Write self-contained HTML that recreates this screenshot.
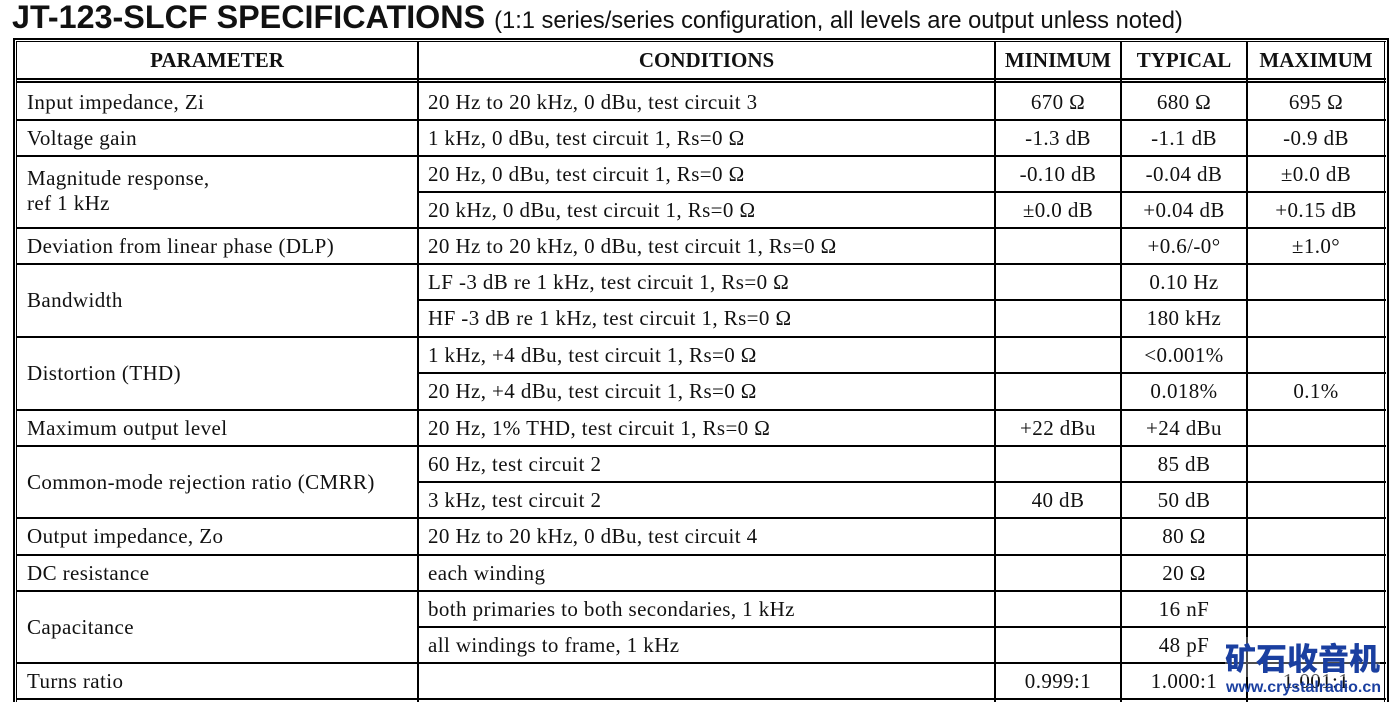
<!DOCTYPE html>
<html><head><meta charset="utf-8"><style>
body{margin:0;width:1391px;height:702px;background:#fff;position:relative;overflow:hidden;font-family:"Liberation Serif",serif;color:#111}
.l{position:absolute;background:#000}
.t{position:absolute;font-size:21px;letter-spacing:0.4px;white-space:nowrap;line-height:36px;height:36px}
.c{text-align:center}
.h{font-weight:bold;line-height:38px;height:38px;top:41px;letter-spacing:0px}
</style></head><body>
<div style="position:absolute;left:12px;top:-1px;font-family:'Liberation Sans',sans-serif;font-weight:bold;font-size:32.3px;line-height:36px;white-space:nowrap">JT-123-SLCF SPECIFICATIONS <span style="font-weight:normal;font-size:23.7px">(1:1 series/series configuration, all levels are output unless noted)</span></div>

<div class="l" style="left:13px;top:38px;width:1376px;height:2px"></div>
<div class="l" style="left:16px;top:41px;width:1370px;height:1px"></div>
<div class="l" style="left:13px;top:38px;width:2px;height:664px"></div>
<div class="l" style="left:16px;top:41px;width:1px;height:661px"></div>
<div class="l" style="left:1387px;top:38px;width:2px;height:664px"></div>
<div class="l" style="left:1384px;top:41px;width:1px;height:661px"></div>
<div class="l" style="left:16px;top:78px;width:1370px;height:2px"></div>
<div class="l" style="left:16px;top:81px;width:1370px;height:2px"></div>
<div class="l" style="left:417px;top:41px;width:2px;height:661px"></div>
<div class="l" style="left:994px;top:41px;width:2px;height:661px"></div>
<div class="l" style="left:1120px;top:41px;width:2px;height:661px"></div>
<div class="l" style="left:1246px;top:41px;width:2px;height:661px"></div>
<div class="l" style="left:16px;top:119px;width:1370px;height:2px"></div>
<div class="l" style="left:16px;top:155px;width:1370px;height:2px"></div>
<div class="l" style="left:417px;top:191px;width:969px;height:2px"></div>
<div class="l" style="left:16px;top:227px;width:1370px;height:2px"></div>
<div class="l" style="left:16px;top:263px;width:1370px;height:2px"></div>
<div class="l" style="left:417px;top:299px;width:969px;height:2px"></div>
<div class="l" style="left:16px;top:336px;width:1370px;height:2px"></div>
<div class="l" style="left:417px;top:372px;width:969px;height:2px"></div>
<div class="l" style="left:16px;top:409px;width:1370px;height:2px"></div>
<div class="l" style="left:16px;top:445px;width:1370px;height:2px"></div>
<div class="l" style="left:417px;top:481px;width:969px;height:2px"></div>
<div class="l" style="left:16px;top:517px;width:1370px;height:2px"></div>
<div class="l" style="left:16px;top:554px;width:1370px;height:2px"></div>
<div class="l" style="left:16px;top:590px;width:1370px;height:2px"></div>
<div class="l" style="left:417px;top:626px;width:969px;height:2px"></div>
<div class="l" style="left:16px;top:662px;width:1370px;height:2px"></div>
<div class="l" style="left:16px;top:698px;width:1370px;height:2px"></div>

<div class="t h c" style="left:17px;width:400px">PARAMETER</div>
<div class="t h c" style="left:419px;width:575px">CONDITIONS</div>
<div class="t h c" style="left:996px;width:124px">MINIMUM</div>
<div class="t h c" style="left:1122px;width:124px">TYPICAL</div>
<div class="t h c" style="left:1248px;width:136px">MAXIMUM</div>

<div class="t" style="left:27px;top:84px">Input impedance, Zi</div>
<div class="t" style="left:428px;top:84px">20 Hz to 20 kHz, 0 dBu, test circuit 3</div>
<div class="t c" style="left:996px;width:124px;top:84px">670 Ω</div>
<div class="t c" style="left:1122px;width:124px;top:84px">680 Ω</div>
<div class="t c" style="left:1248px;width:136px;top:84px">695 Ω</div>

<div class="t" style="left:27px;top:120px">Voltage gain</div>
<div class="t" style="left:428px;top:120px">1 kHz, 0 dBu, test circuit 1, Rs=0 Ω</div>
<div class="t c" style="left:996px;width:124px;top:120px">-1.3 dB</div>
<div class="t c" style="left:1122px;width:124px;top:120px">-1.1 dB</div>
<div class="t c" style="left:1248px;width:136px;top:120px">-0.9 dB</div>

<div class="t" style="left:27px;top:166px;line-height:25px;height:50px">Magnitude response,<br>ref 1 kHz</div>
<div class="t" style="left:428px;top:156px">20 Hz, 0 dBu, test circuit 1, Rs=0 Ω</div>
<div class="t c" style="left:996px;width:124px;top:156px">-0.10 dB</div>
<div class="t c" style="left:1122px;width:124px;top:156px">-0.04 dB</div>
<div class="t c" style="left:1248px;width:136px;top:156px">±0.0 dB</div>
<div class="t" style="left:428px;top:192px">20 kHz, 0 dBu, test circuit 1, Rs=0 Ω</div>
<div class="t c" style="left:996px;width:124px;top:192px">±0.0 dB</div>
<div class="t c" style="left:1122px;width:124px;top:192px">+0.04 dB</div>
<div class="t c" style="left:1248px;width:136px;top:192px">+0.15 dB</div>

<div class="t" style="left:27px;top:228px">Deviation from linear phase (DLP)</div>
<div class="t" style="left:428px;top:228px">20 Hz to 20 kHz, 0 dBu, test circuit 1, Rs=0 Ω</div>
<div class="t c" style="left:1122px;width:124px;top:228px">+0.6/-0°</div>
<div class="t c" style="left:1248px;width:136px;top:228px">±1.0°</div>

<div class="t" style="left:27px;top:282px">Bandwidth</div>
<div class="t" style="left:428px;top:264px">LF -3 dB re 1 kHz, test circuit 1, Rs=0 Ω</div>
<div class="t c" style="left:1122px;width:124px;top:264px">0.10 Hz</div>
<div class="t" style="left:428px;top:300px">HF -3 dB re 1 kHz, test circuit 1, Rs=0 Ω</div>
<div class="t c" style="left:1122px;width:124px;top:300px">180 kHz</div>

<div class="t" style="left:27px;top:355px">Distortion (THD)</div>
<div class="t" style="left:428px;top:337px">1 kHz, +4 dBu, test circuit 1, Rs=0 Ω</div>
<div class="t c" style="left:1122px;width:124px;top:337px">&lt;0.001%</div>
<div class="t" style="left:428px;top:373px">20 Hz, +4 dBu, test circuit 1, Rs=0 Ω</div>
<div class="t c" style="left:1122px;width:124px;top:373px">0.018%</div>
<div class="t c" style="left:1248px;width:136px;top:373px">0.1%</div>

<div class="t" style="left:27px;top:410px">Maximum output level</div>
<div class="t" style="left:428px;top:410px">20 Hz, 1% THD, test circuit 1, Rs=0 Ω</div>
<div class="t c" style="left:996px;width:124px;top:410px">+22 dBu</div>
<div class="t c" style="left:1122px;width:124px;top:410px">+24 dBu</div>

<div class="t" style="left:27px;top:464px">Common-mode rejection ratio (CMRR)</div>
<div class="t" style="left:428px;top:446px">60 Hz, test circuit 2</div>
<div class="t c" style="left:1122px;width:124px;top:446px">85 dB</div>
<div class="t" style="left:428px;top:482px">3 kHz, test circuit 2</div>
<div class="t c" style="left:996px;width:124px;top:482px">40 dB</div>
<div class="t c" style="left:1122px;width:124px;top:482px">50 dB</div>

<div class="t" style="left:27px;top:518px">Output impedance, Zo</div>
<div class="t" style="left:428px;top:518px">20 Hz to 20 kHz, 0 dBu, test circuit 4</div>
<div class="t c" style="left:1122px;width:124px;top:518px">80 Ω</div>

<div class="t" style="left:27px;top:555px">DC resistance</div>
<div class="t" style="left:428px;top:555px">each winding</div>
<div class="t c" style="left:1122px;width:124px;top:555px">20 Ω</div>

<div class="t" style="left:27px;top:609px">Capacitance</div>
<div class="t" style="left:428px;top:591px">both primaries to both secondaries, 1 kHz</div>
<div class="t c" style="left:1122px;width:124px;top:591px">16 nF</div>
<div class="t" style="left:428px;top:627px">all windings to frame, 1 kHz</div>
<div class="t c" style="left:1122px;width:124px;top:627px">48 pF</div>

<div class="t" style="left:27px;top:663px">Turns ratio</div>
<div class="t c" style="left:996px;width:124px;top:663px">0.999:1</div>
<div class="t c" style="left:1122px;width:124px;top:663px">1.000:1</div>
<div class="t c" style="left:1248px;width:136px;top:663px">1.001:1</div>

<div style="position:absolute;left:1225px;top:637px;font-family:'Noto Sans CJK SC',sans-serif;font-weight:900;font-size:31px;line-height:40px;color:#1a3fa0;white-space:nowrap;background:rgba(255,255,255,0.3)">矿石收音机</div>
<div style="position:absolute;left:1226px;top:678px;font-family:'Liberation Sans',sans-serif;font-weight:bold;font-size:16px;line-height:20px;color:#1a3fa0;white-space:nowrap">www.crystalradio.cn</div>
</body></html>
